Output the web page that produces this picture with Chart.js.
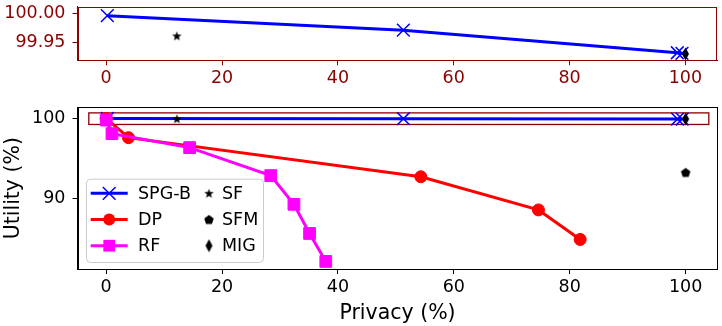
<!DOCTYPE html>
<html><head><meta charset="utf-8">
<script src="https://cdn.jsdelivr.net/npm/chart.js@4.4.0/dist/chart.umd.min.js"></script>
<style>
html,body{margin:0;padding:0;background:#fff;width:722px;height:326px;overflow:hidden}
#topc{position:absolute;left:0;top:0}
#mainc{position:absolute;left:0;top:100px}
</style></head><body>
<canvas id="topc" width="722" height="100"></canvas>
<canvas id="mainc" width="722" height="226"></canvas>
<script>
// ---- data ----
const xTicks = [0, 20, 40, 60, 80, 100];
const yTicksTop = [99.95, 100.00];
const yTicksMain = [90, 100];
const spgbX = [0.2, 51.3, 98.6, 99.4];
const spgbY = [99.996, 99.971, 99.932, 99.931];
const dpX = [0, 3.85, 54.3, 74.6, 81.8];
const dpY = [100, 97.6, 92.7, 88.55, 84.85];
const rfX = [0, 1.0, 14.4, 28.4, 32.4, 35.1, 37.9];
const rfY = [99.8, 98.1, 96.35, 92.85, 89.25, 85.6, 82.1];
const sfX = [12.2], sfY = [99.961];
const sfmX = [100], sfmY = [93.25];
const migX = [100], migY = [99.930];
const zoomBox = [-3, 104, 99.25, 100.7]; // x0, x1, y0, y1 (data units)
const seriesNames = ['SPG-B', 'DP', 'RF', 'SF', 'SFM', 'MIG'];

// ---- helpers ----
const FONT = 'DejaVu Sans';
Chart.defaults.font.family = FONT;
const DARKRED = '#8b0000';
const toPts = (xs, ys) => xs.map((x, i) => ({x: x, y: ys[i]}));
function makeImg(w, h, draw) {
  const c = document.createElement('canvas'); c.width = w; c.height = h;
  const g = c.getContext('2d'); g.fillStyle = '#000'; draw(g); return c;
}
const starImg = makeImg(11, 11, g => {
  g.beginPath();
  for (let i = 0; i < 10; i++) {
    const r = i % 2 ? 2.1 : 5.0; const a = -Math.PI / 2 + i * Math.PI / 5;
    g.lineTo(5.5 + r * Math.cos(a), 5.9 + r * Math.sin(a));
  }
  g.closePath(); g.fill();
});
const pentImg = makeImg(12, 12, g => {
  g.beginPath();
  for (let i = 0; i < 5; i++) {
    const a = -Math.PI / 2 + i * 2 * Math.PI / 5;
    g.lineTo(6 + 5 * Math.cos(a), 6.5 + 5 * Math.sin(a));
  }
  g.closePath(); g.fill();
});
const diamImg = makeImg(9, 14, g => {
  g.beginPath(); g.moveTo(4.5, 0.5); g.lineTo(8, 7); g.lineTo(4.5, 13.5); g.lineTo(1, 7); g.closePath(); g.fill();
});

const styles = {
  'SPG-B': {borderColor: '#0000ff', backgroundColor: '#0000ff', borderWidth: 3, pointStyle: 'crossRot', pointRadius: 9, pointBorderWidth: 1.5, showLine: true, order: 5},
  'DP': {borderColor: '#ff0000', backgroundColor: '#ff0000', borderWidth: 3, pointStyle: 'circle', pointRadius: 6, pointBorderWidth: 1, showLine: true, order: 4},
  'RF': {borderColor: '#ff00ff', backgroundColor: '#ff00ff', borderWidth: 3, pointStyle: 'rect', pointRadius: 8.3, pointBorderWidth: 1, showLine: true, order: 3},
  'SF': {borderColor: '#000', backgroundColor: '#000', pointStyle: starImg, pointRadius: 5, showLine: false, order: 2},
  'SFM': {borderColor: '#000', backgroundColor: '#000', pointStyle: pentImg, pointRadius: 5, showLine: false, order: 1},
  'MIG': {borderColor: '#000', backgroundColor: '#000', pointStyle: diamImg, pointRadius: 5, showLine: false, order: 0}
};
const seriesData = {
  'SPG-B': toPts(spgbX, spgbY), 'DP': toPts(dpX, dpY), 'RF': toPts(rfX, rfY),
  'SF': toPts(sfX, sfY), 'SFM': toPts(sfmX, sfmY), 'MIG': toPts(migX, migY)
};
function ds(name) {
  return Object.assign({label: name, data: seriesData[name], tension: 0, pointHoverRadius: 0}, styles[name]);
}

const framePlugin = {
  id: 'frame',
  afterDatasetsDraw(chart, args, opts) {
    const a = chart.chartArea, ctx = chart.ctx;
    ctx.save(); ctx.strokeStyle = opts.color || '#000'; ctx.lineWidth = 1;
    ctx.strokeRect(Math.round(a.left) + 0.5, Math.round(a.top) + 0.5, Math.round(a.right) - Math.round(a.left) - 1, Math.round(a.bottom) - Math.round(a.top));
    ctx.restore();
  }
};
const boxPlugin = {
  id: 'zoombox',
  beforeDatasetsDraw(chart) {
    const x = chart.scales.x, y = chart.scales.y, ctx = chart.ctx;
    const x0 = x.getPixelForValue(zoomBox[0]), x1 = x.getPixelForValue(zoomBox[1]);
    const y0 = y.getPixelForValue(zoomBox[3]), y1 = y.getPixelForValue(zoomBox[2]);
    ctx.save(); ctx.strokeStyle = DARKRED; ctx.lineWidth = 1.3;
    ctx.strokeRect(x0, y0, x1 - x0, y1 - y0); ctx.restore();
  }
};
function drawMarker(ctx, name, x, y) {
  const s = styles[name];
  ctx.save();
  ctx.fillStyle = s.backgroundColor; ctx.strokeStyle = s.borderColor;
  if (s.pointStyle instanceof HTMLCanvasElement) {
    ctx.drawImage(s.pointStyle, x - s.pointStyle.width / 2, y - s.pointStyle.height / 2);
  } else if (s.pointStyle === 'crossRot') {
    const h = s.pointRadius * Math.SQRT1_2; ctx.lineWidth = s.pointBorderWidth;
    ctx.beginPath(); ctx.moveTo(x - h, y - h); ctx.lineTo(x + h, y + h); ctx.moveTo(x + h, y - h); ctx.lineTo(x - h, y + h); ctx.stroke();
  } else if (s.pointStyle === 'circle') {
    ctx.beginPath(); ctx.arc(x, y, s.pointRadius, 0, Math.PI * 2); ctx.fill();
  } else if (s.pointStyle === 'rect') {
    const h = s.pointRadius * Math.SQRT1_2; ctx.fillRect(x - h, y - h, 2 * h, 2 * h);
  }
  ctx.restore();
}
const legendPlugin = {
  id: 'mylegend',
  afterDraw(chart) {
    const a = chart.chartArea, ctx = chart.ctx;
    const bx = a.left + 8.5, bw = 177, bh = 83.3, by = a.bottom - 7 - bh;
    ctx.save();
    ctx.beginPath();
    if (ctx.roundRect) ctx.roundRect(bx + 0.5, by + 0.5, bw, bh, 4); else ctx.rect(bx + 0.5, by + 0.5, bw, bh);
    ctx.fillStyle = 'rgba(255,255,255,0.8)'; ctx.fill();
    ctx.strokeStyle = '#cccccc'; ctx.lineWidth = 1; ctx.stroke();
    ctx.font = '17.5px "' + FONT + '"'; ctx.textBaseline = 'middle'; ctx.fillStyle = '#000';
    seriesNames.forEach((name, i) => {
      const col = i < 3 ? 0 : 1, row = i % 3;
      const cy = by + 14.6 + row * 26.2;
      if (col === 0) {
        const s = styles[name];
        ctx.save(); ctx.strokeStyle = s.borderColor; ctx.lineWidth = s.borderWidth;
        ctx.beginPath(); ctx.moveTo(bx + 4.7, cy); ctx.lineTo(bx + 41.7, cy); ctx.stroke(); ctx.restore();
        drawMarker(ctx, name, bx + 23.2, cy);
        ctx.fillText(name, bx + 52, cy + 1);
      } else {
        drawMarker(ctx, name, bx + 123, cy);
        ctx.fillText(name, bx + 136, cy + 1);
      }
    });
    ctx.restore();
  }
};

function zeroPad(s) {
  s.paddingLeft = 0; s.paddingRight = 0; s.paddingTop = 0; s.paddingBottom = 0;
}
function axes(opts) {
  const c = opts.color;
  const tickFont = {family: FONT, size: 17.5};
  const x = {
    type: 'linear', min: -4.95, max: 105.5,
    afterBuildTicks: s => { s.ticks = xTicks.map(v => ({value: v})); },
    ticks: {font: tickFont, color: c, padding: 2.5, maxRotation: 0, autoSkip: false},
    grid: {display: true, drawOnChartArea: false, drawTicks: true, tickLength: 5, color: c, tickWidth: 1},
    border: {display: true, color: c, width: 1},
    afterFit: s => { s.height = opts.xh; zeroPad(s); }
  };
  if (opts.xTitle) x.title = {display: true, text: opts.xTitle, color: c, font: {family: FONT, size: 20.5}, padding: {top: 0, bottom: 0}};
  const y = {
    type: 'linear', min: opts.ymin, max: opts.ymax,
    afterBuildTicks: s => { s.ticks = opts.yticks.map(v => ({value: v})); },
    ticks: {font: tickFont, color: c, padding: 7, autoSkip: false, callback: opts.yfmt},
    grid: {display: true, drawOnChartArea: false, drawTicks: true, tickLength: 5, color: c, tickWidth: 1},
    border: {display: true, color: c, width: 1},
    afterFit: s => { s.width = 77.5; zeroPad(s); }
  };
  if (opts.yTitle) y.title = {display: true, text: opts.yTitle, color: c, font: {family: FONT, size: 20.5}, padding: {top: 1, bottom: 0}};
  return {x, y};
}

new Chart(document.getElementById('topc'), {
  type: 'scatter',
  data: {datasets: ['SPG-B', 'SF', 'MIG'].map(ds)},
  options: {
    responsive: false, animation: false, events: [],
    layout: {autoPadding: false, padding: {top: 6.7, right: 4.7, bottom: 0, left: 0}},
    plugins: {legend: {display: false}, tooltip: {enabled: false}, frame: {color: DARKRED}},
    scales: axes({color: DARKRED, xh: 39.7, ymin: 99.919, ymax: 100.0114, yticks: yTicksTop, yfmt: v => Number(v).toFixed(2)})
  },
  plugins: [framePlugin]
});

new Chart(document.getElementById('mainc'), {
  type: 'scatter',
  data: {datasets: seriesNames.map(ds)},
  options: {
    responsive: false, animation: false, events: [],
    layout: {autoPadding: false, padding: {top: 7.3, right: 4.5, bottom: 0, left: 0}},
    plugins: {legend: {display: false}, tooltip: {enabled: false}, frame: {color: '#000'}},
    scales: axes({color: '#000', xh: 57, ymin: 81.15, ymax: 101.4, yticks: yTicksMain, yfmt: v => String(v), xTitle: 'Privacy (%)', yTitle: 'Utility (%)'})
  },
  plugins: [boxPlugin, framePlugin, legendPlugin]
});
</script>
</body></html>
